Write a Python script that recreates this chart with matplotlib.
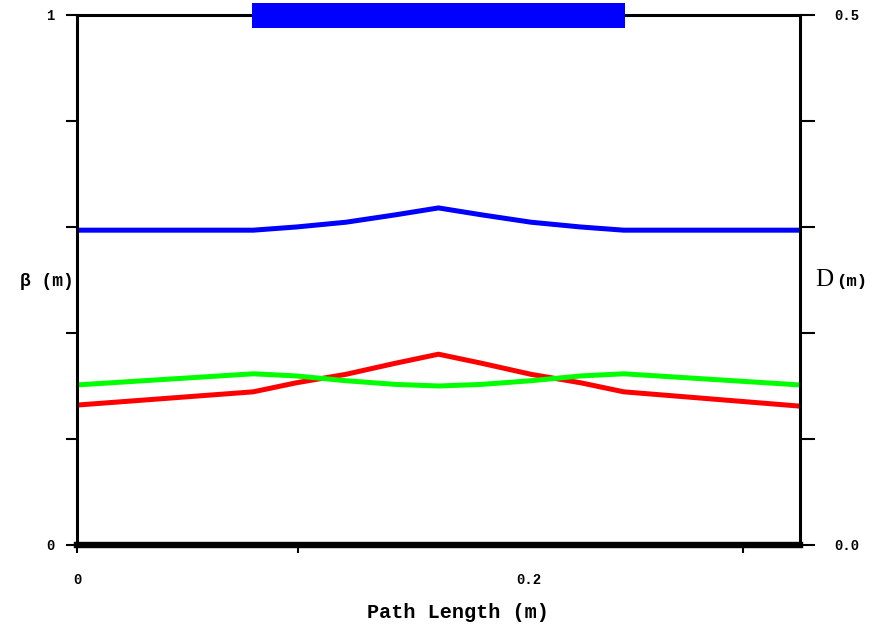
import matplotlib
matplotlib.use("Agg")
import matplotlib.pyplot as plt
from matplotlib.patches import Rectangle

# path length positions (m) and optics functions
s = [0.0, 0.078, 0.097, 0.119, 0.141, 0.160, 0.179, 0.201, 0.223, 0.242, 0.32]
beta_blue = [0.594, 0.594, 0.600, 0.609, 0.623, 0.636, 0.623, 0.609, 0.600, 0.594, 0.594]
beta_red = [0.264, 0.289, 0.306, 0.322, 0.343, 0.360, 0.343, 0.322, 0.306, 0.289, 0.262]
beta_green = [0.302, 0.323, 0.319, 0.310, 0.303, 0.300, 0.303, 0.310, 0.319, 0.323, 0.302]

# element (drawn as bar on top)
elem_start = 0.0775
elem_end = 0.2425

x_labels = ["0", "0.2"]
x_label_pos = [0.0, 0.2]
x_minor = [0.0978, 0.2948]

mono = "Liberation Mono"

fig = plt.figure(figsize=(8.78, 6.24), dpi=100)
ax = fig.add_axes([77/878, 79/624, 723/878, 530/624])
ax.set_xlim(0, 0.32)
ax.set_ylim(0, 1)

ax.plot(s, beta_blue, color="#0000ff", lw=3.6, solid_capstyle="butt")
ax.plot(s, beta_red, color="#ff0000", lw=3.6, solid_capstyle="butt")
ax.plot(s, beta_green, color="#00ff00", lw=3.6, solid_capstyle="butt")

ax.add_patch(Rectangle((elem_start, 0.9755), elem_end - elem_start, 0.047,
                       facecolor="#0000ff", edgecolor="none", clip_on=False, zorder=5))

for side in ["left", "right", "top"]:
    ax.spines[side].set_linewidth(2.2)
ax.spines["bottom"].set_linewidth(4.6)

# x axis
ax.set_xticks(x_label_pos)
ax.set_xticklabels(x_labels, fontfamily=mono, fontweight="bold", fontsize=10)
ax.set_xticks(x_minor, minor=True)
ax.tick_params(axis="x", which="both", direction="out", length=6, width=1.5, pad=14)
ax.xaxis.get_major_ticks()[1].tick1line.set_visible(False)
ax.set_xlabel("Path Length (m)", fontfamily=mono, fontweight="bold", fontsize=14.5)
ax.xaxis.set_label_coords(0.527, -0.11)

# left axis
ax.set_yticks([0, 1])
ax.set_yticklabels(["0", "1"], fontfamily=mono, fontweight="bold", fontsize=10)
ax.set_yticks([0.2, 0.4, 0.6, 0.8], minor=True)
ax.tick_params(axis="y", which="both", direction="out", length=8, width=1.5, pad=8)

# right axis
ax2 = ax.twinx()
ax2.set_ylim(0, 0.5)
ax2.set_yticks([0.0, 0.5])
ax2.set_yticklabels(["0.0", "0.5"], fontfamily=mono, fontweight="bold", fontsize=10)
ax2.set_yticks([0.1, 0.2, 0.3, 0.4], minor=True)
ax2.tick_params(axis="y", which="both", direction="out", length=11, width=1.5, pad=14)
for sp in ax2.spines.values():
    sp.set_visible(False)

fig.text(20/878, 1 - 281/624, "\u03b2 (m)", fontfamily=mono, fontweight="bold",
         fontsize=13, va="center", ha="left")
fig.text(815/878, 1 - 280/624, "D", fontfamily="Liberation Serif", fontsize=18,
         va="center", ha="left")
fig.text(836/878, 1 - 282/624, "(m)", fontfamily=mono, fontweight="bold",
         fontsize=12.5, va="center", ha="left")

fig.savefig("out.png", dpi=100)
